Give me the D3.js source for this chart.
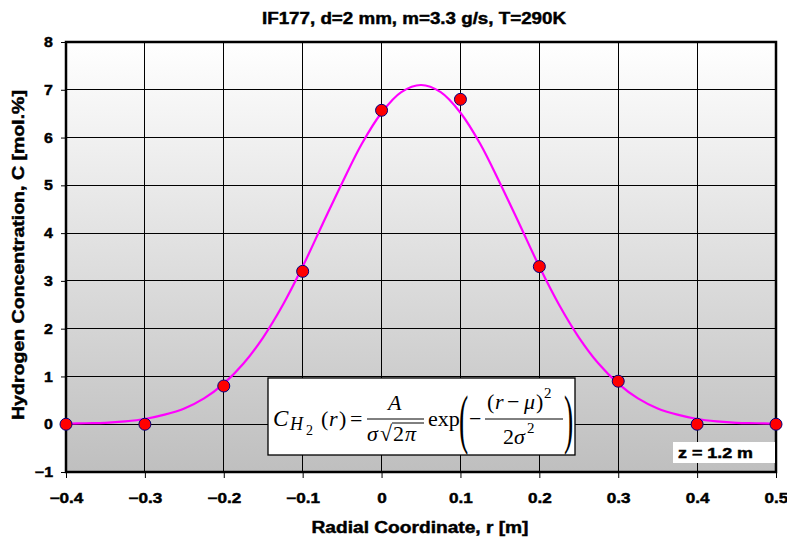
<!DOCTYPE html>
<html>
<head>
<meta charset="utf-8">
<script src="https://cdn.jsdelivr.net/npm/d3@7"></script>
<style>
  body { margin: 0; background: #fff; }
  text { font-family: Arial, "Liberation Sans", sans-serif; }
  .heavy { stroke: #000; stroke-width: 0.45px; }
  .math { font-family: "Times New Roman", "Liberation Serif", serif; fill: #000; }
</style>
</head>
<body>
<div id="chart"></div>
<script>
// measured points
const radius = [-0.4, -0.3, -0.2, -0.1, 0.0, 0.1, 0.2, 0.3, 0.4, 0.5];
const conc = [0, 0, 0.8, 3.2, 6.57, 6.8, 3.3, 0.9, 0, 0];

// fitted curve
const fitR = [-0.4, -0.375, -0.35, -0.325, -0.3, -0.275, -0.25, -0.225, -0.2, -0.175,
  -0.15, -0.125, -0.1, -0.075, -0.05, -0.025, 0, 0.025, 0.05, 0.075, 0.1, 0.125,
  0.15, 0.175, 0.2, 0.225, 0.25, 0.275, 0.3, 0.325, 0.35, 0.375, 0.4, 0.425, 0.45, 0.475, 0.5];
const fitC = [0.01, 0.02, 0.03, 0.06, 0.11, 0.2, 0.33, 0.54, 0.85, 1.27,
  1.82, 2.5, 3.3, 4.18, 5.05, 5.87, 6.52, 6.95, 7.1, 6.95, 6.52, 5.87,
  5.05, 4.18, 3.3, 2.5, 1.82, 1.27, 0.85, 0.54, 0.33, 0.2, 0.11, 0.06, 0.03, 0.02, 0.01];

const xTicks = [-0.4, -0.3, -0.2, -0.1, 0, 0.1, 0.2, 0.3, 0.4, 0.5];
const yTicks = [-1, 0, 1, 2, 3, 4, 5, 6, 7, 8];

const width = 787, height = 540;
const margin = {top: 42, right: 11, bottom: 68, left: 66};

const svg = d3.select('#chart').append('svg')
  .attr('width', width)
  .attr('height', height);

const x = d3.scaleLinear().domain([-0.4, 0.5]).range([margin.left, width - margin.right]);
const y = d3.scaleLinear().domain([-1, 8]).range([height - margin.bottom, margin.top]);

// background gradient
const grad = svg.append('defs').append('linearGradient')
  .attr('id', 'bg').attr('x1', 0).attr('y1', 0).attr('x2', 0).attr('y2', 1);
grad.append('stop').attr('offset', '0%').attr('stop-color', '#ffffff');
grad.append('stop').attr('offset', '100%').attr('stop-color', '#bfbfbf');

svg.append('rect')
  .attr('x', x(-0.4)).attr('y', y(8))
  .attr('width', x(0.5) - x(-0.4)).attr('height', y(-1) - y(8))
  .attr('fill', 'url(#bg)');

// grid
const grid = svg.append('g');
grid.selectAll('.vg').data(xTicks.slice(1, -1)).enter().append('line')
  .attr('x1', d => x(d)).attr('x2', d => x(d))
  .attr('y1', y(8)).attr('y2', y(-1))
  .attr('stroke', '#000').attr('stroke-width', 1).attr('shape-rendering', 'crispEdges');
grid.selectAll('.hg').data(yTicks.slice(1, -1)).enter().append('line')
  .attr('x1', x(-0.4)).attr('x2', x(0.5))
  .attr('y1', d => y(d)).attr('y2', d => y(d))
  .attr('stroke', '#000').attr('stroke-width', 1).attr('shape-rendering', 'crispEdges');

// axes
const xAxis = svg.append('g')
  .attr('transform', `translate(0,${y(-1)})`)
  .call(d3.axisBottom(x).tickValues(xTicks).tickSize(6).tickPadding(15)
    .tickFormat(d => d === 0 ? '0' : d3.format('.1f')(d)));
const yAxis = svg.append('g')
  .attr('transform', `translate(${x(-0.4)},0)`)
  .call(d3.axisLeft(y).tickValues(yTicks).tickSize(5).tickPadding(8));
[xAxis, yAxis].forEach(a => {
  a.select('.domain').remove();
  a.selectAll('.tick line').attr('stroke', '#000');
  a.selectAll('.tick text')
    .attr('class', 'heavy')
    .attr('fill', '#000')
    .style('font-family', 'Arial, "Liberation Sans", sans-serif')
    .style('font-size', '14.5px')
    .style('font-weight', 'bold');
});
xAxis.selectAll('.tick text').attr('transform', 'scale(1.18,1)');
yAxis.selectAll('.tick text').attr('x', -13 / 1.1).attr('transform', 'scale(1.1,1)');

// frame
svg.append('rect')
  .attr('x', x(-0.4)).attr('y', y(8))
  .attr('width', x(0.5) - x(-0.4)).attr('height', y(-1) - y(8))
  .attr('fill', 'none').attr('stroke', '#000').attr('stroke-width', 2.5);

// fit curve
const line = d3.line().x((d, i) => x(fitR[i])).y(d => y(d)).curve(d3.curveCatmullRom);
svg.append('path')
  .datum(fitC)
  .attr('d', line)
  .attr('fill', 'none')
  .attr('stroke', '#ff00ff')
  .attr('stroke-width', 2.2);

// formula box
const fx = 268, fy = 378;
svg.append('rect')
  .attr('x', fx).attr('y', fy).attr('width', 307).attr('height', 77)
  .attr('fill', '#fff').attr('stroke', '#000').attr('stroke-width', 1.3);

const m = svg.append('g').attr('class', 'math');
const mt = (tx, ty, s, size, italic) => m.append('text')
  .attr('class', 'math').attr('x', tx).attr('y', ty)
  .attr('font-size', size).attr('font-style', italic ? 'italic' : 'normal')
  .text(s);
mt(273, 426, 'C', 23, true);
mt(290, 430, 'H', 18, true);
mt(306, 435, '2', 14, false);
mt(321, 426, '(', 22, false);
mt(329, 426, 'r', 22, true);
mt(339, 426, ')', 22, false);
mt(350, 426, '=', 22, false);
// first fraction
m.append('line').attr('x1', 367).attr('x2', 424).attr('y1', 419).attr('y2', 419)
  .attr('stroke', '#000').attr('stroke-width', 1);
mt(388, 410, 'A', 22, true);
mt(367, 441, 'σ', 22, true);
mt(380, 441, '√', 22, false);
m.append('line').attr('x1', 392).attr('x2', 424).attr('y1', 423).attr('y2', 423)
  .attr('stroke', '#000').attr('stroke-width', 1);
mt(393, 441, '2', 22, false);
mt(405, 441, 'π', 22, true);
mt(428, 426, 'exp', 22, false);
// big parentheses
m.append('text').attr('class', 'math').attr('font-size', 66)
  .attr('transform', 'translate(459,441) scale(0.42,1)').text('(');
m.append('text').attr('class', 'math').attr('font-size', 66)
  .attr('transform', 'translate(564,441) scale(0.42,1)').text(')');
mt(469, 426, '−', 22, false);
// second fraction
m.append('line').attr('x1', 485).attr('x2', 563).attr('y1', 419).attr('y2', 419)
  .attr('stroke', '#000').attr('stroke-width', 1);
mt(487, 409, '(', 22, false);
mt(495, 409, 'r', 22, true);
mt(507, 409, '−', 22, false);
mt(524, 409, 'μ', 22, true);
mt(536, 409, ')', 22, false);
mt(544, 398, '2', 15, false);
mt(503, 444, '2', 22, false);
mt(514, 444, 'σ', 22, true);
mt(527, 433, '2', 15, false);

// z label
svg.append('rect')
  .attr('x', 673).attr('y', 442).attr('width', 102).attr('height', 21)
  .attr('fill', '#fff');
svg.append('text')
  .attr('class', 'heavy')
  .attr('x', 678).attr('y', 458)
  .attr('font-size', 14).attr('font-weight', 'bold')
  .attr('textLength', 75).attr('lengthAdjust', 'spacingAndGlyphs')
  .text('z = 1.2 m');

// markers
svg.selectAll('.pt').data(conc).enter().append('circle')
  .attr('cx', (d, i) => x(radius[i]))
  .attr('cy', d => y(d))
  .attr('r', 6)
  .attr('fill', '#ff0000')
  .attr('stroke', '#000080')
  .attr('stroke-width', 1);

// titles
svg.append('text')
  .attr('class', 'heavy')
  .attr('x', 414).attr('y', 24)
  .attr('text-anchor', 'middle')
  .attr('font-size', 16).attr('font-weight', 'bold')
  .attr('textLength', 304).attr('lengthAdjust', 'spacingAndGlyphs')
  .text('IF177, d=2 mm, m=3.3 g/s, T=290K');
svg.append('text')
  .attr('class', 'heavy')
  .attr('x', 420).attr('y', 533)
  .attr('text-anchor', 'middle')
  .attr('font-size', 16).attr('font-weight', 'bold')
  .attr('textLength', 217).attr('lengthAdjust', 'spacingAndGlyphs')
  .text('Radial Coordinate, r [m]');
svg.append('text')
  .attr('class', 'heavy')
  .attr('transform', `translate(24,${(y(8) + y(-1)) / 2 - 2}) rotate(-90)`)
  .attr('text-anchor', 'middle')
  .attr('font-size', 16.5).attr('font-weight', 'bold')
  .attr('textLength', 330).attr('lengthAdjust', 'spacingAndGlyphs')
  .text('Hydrogen Concentration, C [mol.%]');
</script>
</body>
</html>
